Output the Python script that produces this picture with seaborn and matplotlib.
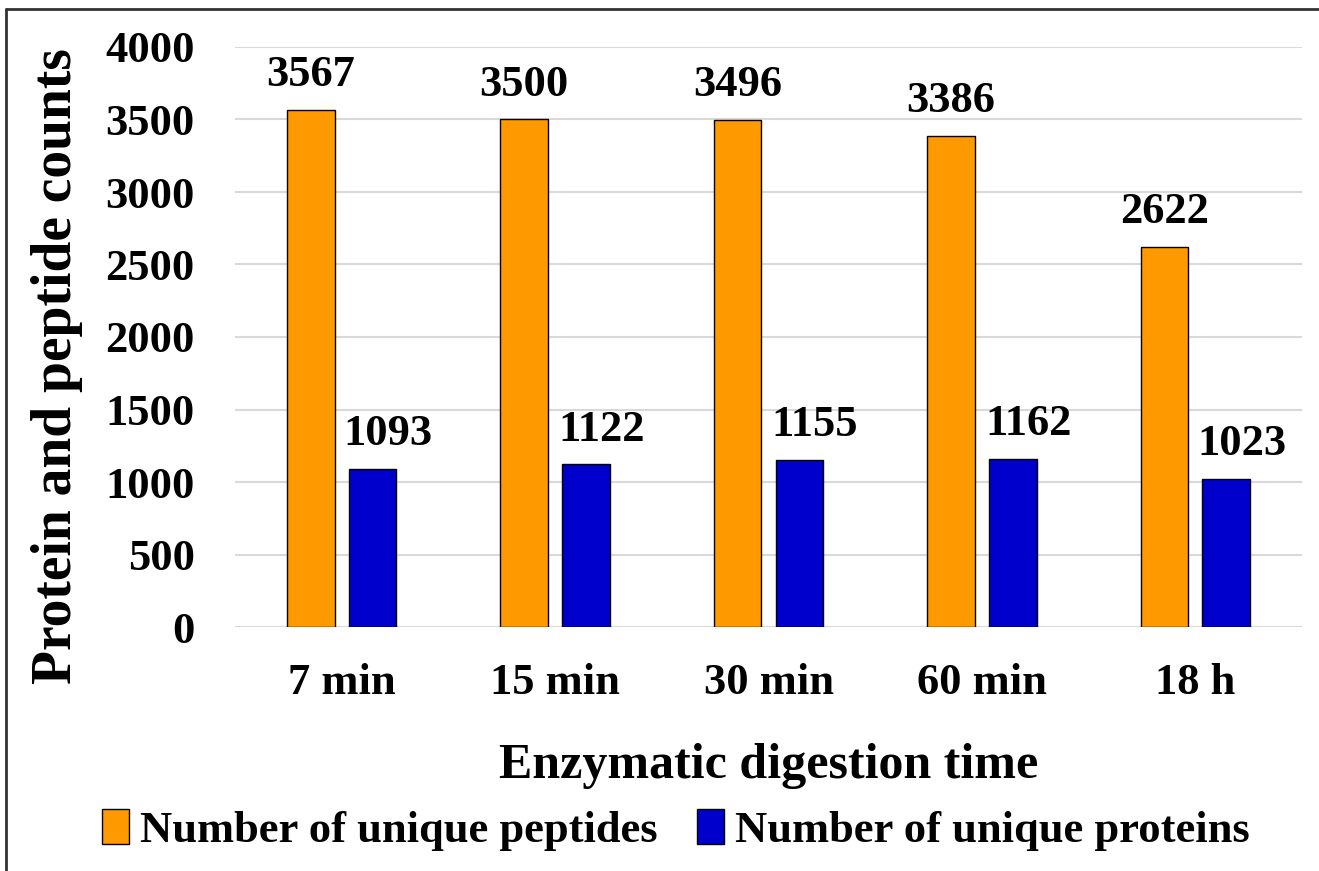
import matplotlib
matplotlib.use("Agg")
import matplotlib.pyplot as plt
from matplotlib.lines import Line2D
from matplotlib.patches import Patch
import seaborn as sns
import pandas as pd

categories = ["7 min", "15 min", "30 min", "60 min", "18 h"]
peptides = [3567, 3500, 3496, 3386, 2622]
proteins = [1093, 1122, 1155, 1162, 1023]
series_names = ["Number of unique peptides", "Number of unique proteins"]
colors = ["#FF9900", "#0000CC"]

df = pd.DataFrame({
    "time": categories * 2,
    "count": peptides + proteins,
    "series": [series_names[0]] * len(categories) + [series_names[1]] * len(categories),
})

sns.set_style("white")
plt.rcParams["font.family"] = ["Liberation Serif", "DejaVu Serif"]
plt.rcParams["font.weight"] = "bold"
plt.rcParams["text.color"] = "black"
plt.rcParams["axes.labelcolor"] = "black"
plt.rcParams["xtick.color"] = "black"
plt.rcParams["ytick.color"] = "black"

fig = plt.figure(figsize=(13.19, 8.71), dpi=100)
ax = fig.add_axes([235 / 1319, 1 - 627 / 871, (1302 - 235) / 1319, (627 - 47) / 871])

sns.barplot(data=df, x="time", y="count", hue="series", order=categories,
            hue_order=series_names, palette=colors, saturation=1, width=0.58, gap=0.23,
            edgecolor="black", linewidth=1.0, ax=ax, legend=False, zorder=3)

ax.set_ylim(0, 4000)
ax.set_yticks(range(0, 4001, 500))
ax.yaxis.grid(True, color="#D9D9D9", linewidth=1.5, zorder=0)
ax.set_axisbelow(True)
for s in ax.spines.values():
    s.set_visible(False)
ax.tick_params(axis="x", length=0, labelsize=32, pad=26)
ax.tick_params(axis="y", length=0, labelsize=32, pad=29)
for lbl in ax.get_xticklabels() + ax.get_yticklabels():
    lbl.set_fontweight("bold")

ax.set_xlabel("Enzymatic digestion time", fontsize=36, fontweight="bold", labelpad=29)
ax.set_ylabel("Protein and peptide counts", fontsize=40, fontweight="bold")
ax.yaxis.label.set_rotation_mode("default")
ax.yaxis.label.set_verticalalignment("center")
ax.yaxis.set_label_coords((57 - 235) / 1067, (627 - 366) / 580)

# data labels
for i, cont in enumerate(ax.containers):
    dx = 0 if i == 0 else 11
    for bar, val in zip(cont, [peptides, proteins][i]):
        ax.annotate(str(val), (bar.get_x() + bar.get_width() / 2, bar.get_height()),
                    xytext=(dx, 17), textcoords="offset points", ha="center",
                    va="baseline", fontsize=32, fontweight="bold")

handles = [Patch(facecolor=c, edgecolor="black", linewidth=1.0) for c in colors]
fig.legend(handles, series_names, loc="center", bbox_to_anchor=(676 / 1319, 1 - 830 / 871),
           ncol=2, frameon=False, prop={"weight": "bold", "size": 32},
           handlelength=0.6, handleheight=0.85, handletextpad=0.25, columnspacing=0.9)

# outer frame (cropped)
fig.add_artist(Line2D([6 / 1319, 1.0], [1 - 9 / 871, 1 - 9 / 871], color="#333333", lw=2,
                      transform=fig.transFigure))
fig.add_artist(Line2D([6 / 1319, 6 / 1319], [0, 1 - 9 / 871], color="#333333", lw=2,
                      transform=fig.transFigure))

fig.savefig("out.png", dpi=100)
